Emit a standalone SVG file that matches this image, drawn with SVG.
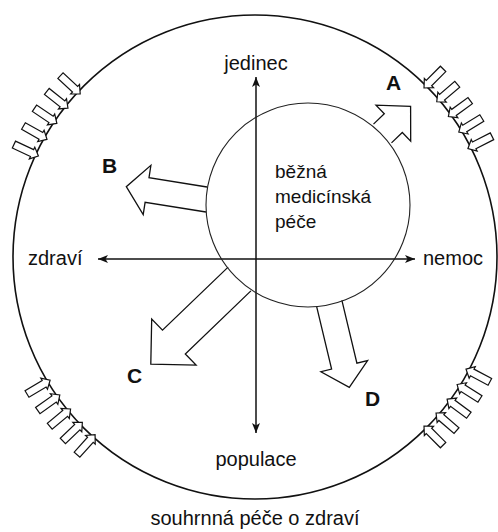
<svg xmlns="http://www.w3.org/2000/svg" xmlns:xlink="http://www.w3.org/1999/xlink" width="498" height="532" viewBox="0 0 498 532">
<style>
  text { font-family: "Liberation Sans", Arial, sans-serif; fill: #111; }
  .lbl { font-size: 20px; }
  .in { font-size: 19px; }
  .big { font-size: 21px; font-weight: bold; }
  .ring { fill: none; stroke: #111; stroke-width: 1.6; }
  .inner { fill: none; stroke: #222; stroke-width: 1.1; }
  .axis { stroke: #111; stroke-width: 1.5; fill: none; }
  .barrow { fill: #fff; stroke: #111; stroke-width: 1.3; stroke-linejoin: miter; }
  .hatch { fill: #fff; stroke: #111; stroke-width: 1.2; stroke-linejoin: miter; }
</style>
<defs>
  <marker id="ah" viewBox="0 0 10 8" refX="10" refY="4" markerWidth="10" markerHeight="8" markerUnits="userSpaceOnUse" orient="auto-start-reverse">
    <path d="M0,0 L10,4 L0,8 L2.5,4 z" fill="#111"/>
  </marker>
  <polygon id="ha" points="0,0 7,-6.5 7,-3.8 27,-3.8 27,3.8 7,3.8 7,6.5"/>
</defs>
<rect width="498" height="532" fill="#fff"/>

<g id="outer-circle">
  <circle class="ring" cx="255" cy="257" r="242"/>
</g>

<g id="hatch-upper-left" class="hatch">
  <use xlink:href="#ha" href="#ha" transform="translate(255,257) rotate(205) translate(239,0)"/>
  <use xlink:href="#ha" href="#ha" transform="translate(255,257) rotate(209.5) translate(239,0)"/>
  <use xlink:href="#ha" href="#ha" transform="translate(255,257) rotate(214) translate(239,0)"/>
  <use xlink:href="#ha" href="#ha" transform="translate(255,257) rotate(218.5) translate(239,0)"/>
  <use xlink:href="#ha" href="#ha" transform="translate(255,257) rotate(223) translate(239,0)"/>
</g>
<g id="hatch-upper-right" class="hatch">
  <use xlink:href="#ha" href="#ha" transform="translate(255,257) rotate(-45) translate(239,0)"/>
  <use xlink:href="#ha" href="#ha" transform="translate(255,257) rotate(-40.5) translate(239,0)"/>
  <use xlink:href="#ha" href="#ha" transform="translate(255,257) rotate(-36) translate(239,0)"/>
  <use xlink:href="#ha" href="#ha" transform="translate(255,257) rotate(-31.5) translate(239,0)"/>
  <use xlink:href="#ha" href="#ha" transform="translate(255,257) rotate(-27) translate(239,0)"/>
</g>
<g id="hatch-lower-left" class="hatch">
  <use xlink:href="#ha" href="#ha" transform="translate(255,257) rotate(132) translate(239,0)"/>
  <use xlink:href="#ha" href="#ha" transform="translate(255,257) rotate(136.25) translate(239,0)"/>
  <use xlink:href="#ha" href="#ha" transform="translate(255,257) rotate(140.5) translate(239,0)"/>
  <use xlink:href="#ha" href="#ha" transform="translate(255,257) rotate(144.75) translate(239,0)"/>
  <use xlink:href="#ha" href="#ha" transform="translate(255,257) rotate(149) translate(239,0)"/>
</g>
<g id="hatch-lower-right" class="hatch">
  <use xlink:href="#ha" href="#ha" transform="translate(255,257) rotate(28) translate(239,0)"/>
  <use xlink:href="#ha" href="#ha" transform="translate(255,257) rotate(32.25) translate(239,0)"/>
  <use xlink:href="#ha" href="#ha" transform="translate(255,257) rotate(36.5) translate(239,0)"/>
  <use xlink:href="#ha" href="#ha" transform="translate(255,257) rotate(40.75) translate(239,0)"/>
  <use xlink:href="#ha" href="#ha" transform="translate(255,257) rotate(45) translate(239,0)"/>
</g>

<g id="connectors">
  <path id="arrow-A" class="barrow" d="M373.5,124.1 L384.3,113.7 L376,105.1 L410.6,106.4 L410.7,141.1 L402.3,132.5 L391.5,142.9"/>
  <path id="arrow-B" class="barrow" d="M207,187 L149,177.6 L150.9,165.3 L126.3,186.7 L143.2,214.7 L145.1,202.3 L206,212"/>
  <path id="arrow-C" class="barrow" d="M228.1,267.1 L162.5,330.2 L151.7,319 L150.8,364.2 L196.1,365.1 L185.3,354 L250.9,290.9"/>
  <path id="arrow-D" class="barrow" d="M316.6,306.4 L331.6,369.1 L320.9,371.7 L349.3,387.3 L367.6,360.5 L356.9,363.1 L341.9,300.3"/>
  <line id="axis-h" class="axis" x1="98" y1="259" x2="415" y2="259" marker-start="url(#ah)" marker-end="url(#ah)"/>
  <line id="axis-v" class="axis" x1="256" y1="77" x2="256" y2="433" marker-start="url(#ah)" marker-end="url(#ah)"/>
</g>

<g id="inner-circle">
  <circle class="inner" cx="308" cy="205" r="102"/>
  <text class="in" x="275" y="178">běžná</text>
  <text class="in" x="275" y="203">medicínská</text>
  <text class="in" x="275" y="228">péče</text>
</g>

<g id="label-jedinec"><text class="lbl" x="256" y="70" text-anchor="middle">jedinec</text></g>
<g id="label-populace"><text class="lbl" x="256" y="466" text-anchor="middle">populace</text></g>
<g id="label-zdravi"><text class="lbl" x="28" y="265">zdraví</text></g>
<g id="label-nemoc"><text class="lbl" x="423" y="265">nemoc</text></g>
<g id="label-caption"><text class="lbl" x="255" y="525" text-anchor="middle">souhrnná péče o zdraví</text></g>

<g id="label-A"><text class="big" x="386" y="90">A</text></g>
<g id="label-B"><text class="big" x="102" y="173">B</text></g>
<g id="label-C"><text class="big" x="127" y="383">C</text></g>
<g id="label-D"><text class="big" x="365" y="406">D</text></g>
</svg>
